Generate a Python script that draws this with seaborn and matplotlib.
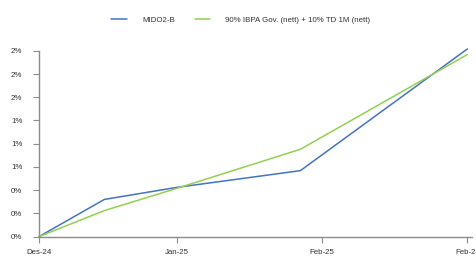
import pandas as pd
import matplotlib.pyplot as plt
import matplotlib.ticker as mticker
import seaborn as sns

# Data (return in %)
dates = ['2024-12-31', '2025-01-09', '2025-01-19', '2025-02-05', '2025-02-28']
mido2b = [0.0, 0.40, 0.53, 0.71, 2.02]
benchmark = [0.0, 0.28, 0.52, 0.94, 1.96]
series_names = ['MIDO2-B', '90% IBPA Gov. (nett) + 10% TD 1M (nett)']
tick_dates = ['2024-12-31', '2025-01-19', '2025-02-08', '2025-02-28']
tick_labels = ['Des-24', 'Jan-25', 'Feb-25', 'Feb-25']

df = pd.DataFrame({
    'date': pd.to_datetime(dates * 2),
    'value': mido2b + benchmark,
    'series': [series_names[0]] * len(dates) + [series_names[1]] * len(dates),
})

sns.set_style('white')
plt.rcParams['font.family'] = ['Liberation Sans', 'DejaVu Sans']

fig = plt.figure(figsize=(4.76, 2.58), dpi=100)
ax = fig.add_axes([0.082, 0.083, 0.91, 0.72])

sns.lineplot(data=df, x='date', y='value', hue='series',
             palette=['#4472C4', '#92D050'], linewidth=1.1, ax=ax, legend=True)

ax.set_xlim(pd.Timestamp('2024-12-31'), pd.Timestamp('2025-02-28') + pd.Timedelta(hours=16))
ax.set_ylim(0, 2.0)
ax.set_yticks([i * 0.25 for i in range(9)])
ax.yaxis.set_major_formatter(mticker.FuncFormatter(lambda v, p: f'{v:.0f}%'))
ax.set_xticks(pd.to_datetime(tick_dates))
ax.set_xticklabels(tick_labels)
for line in ax.get_lines():
    line.set_clip_on(False)

ax.set_xlabel('')
ax.set_ylabel('')
for s in ['top', 'right']:
    ax.spines[s].set_visible(False)
for s in ['left', 'bottom']:
    ax.spines[s].set_color('#8c8c8c')
    ax.spines[s].set_linewidth(1.0)
ax.tick_params(axis='y', length=4, width=0.8, color='#8c8c8c', pad=8,
               labelsize=5.7, labelcolor='#333333', left=True)
ax.tick_params(axis='x', length=4, width=0.8, color='#8c8c8c', pad=5,
               labelsize=5.7, labelcolor='#333333', bottom=True)

handles, labels = ax.get_legend_handles_labels()
ax.legend(handles, labels, loc='center', bbox_to_anchor=(0.506, 0.922),
          bbox_transform=fig.transFigure, ncol=2, frameon=False,
          fontsize=5.7, handlelength=2.0, handletextpad=1.9, columnspacing=2.5,
          labelcolor='#333333')

fig.savefig('out.png', dpi=100)
